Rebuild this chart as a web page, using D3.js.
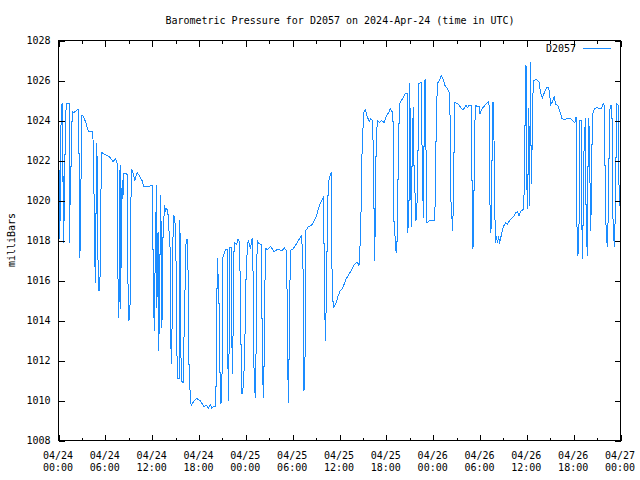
<!DOCTYPE html>
<html><head><meta charset="utf-8">
<script src="https://cdn.jsdelivr.net/npm/d3@7/dist/d3.min.js"></script>
<style>
body{margin:0;background:#fff}
svg{display:block}
text{font-family:"DejaVu Sans Mono","Liberation Mono",monospace;font-size:10px;fill:#000}
</style>
</head><body>
<svg id="chart" width="640" height="480"></svg>
<script>
const title = "Barometric Pressure for D2057 on 2024-Apr-24 (time in UTC)";
const seriesName = "D2057";
const yLabel = "milliBars";
const yTicks = [1008,1010,1012,1014,1016,1018,1020,1022,1024,1026,1028];
const xTickHours = [0,6,12,18,24,30,36,42,48,54,60,66,72];
const xMinorHours = [3,9,15,21,27,33,39,45,51,57,63,69];
const xTickDates = ["04/24","04/24","04/24","04/24","04/25","04/25","04/25","04/25","04/26","04/26","04/26","04/26","04/27"];
const xTickTimes = ["00:00","06:00","12:00","18:00","00:00","06:00","12:00","18:00","00:00","06:00","12:00","18:00","00:00"];
// [hours since 2024-04-24 00:00 UTC, millibars]
const readings = [
[0.00,1019.3],[0.10,1018.1],[0.15,1021.5],[0.25,1019.0],[0.30,1023.6],[0.45,1024.85],[0.55,1024.85],[0.60,1017.9],
[0.70,1021.2],[0.80,1019.0],[0.85,1023.6],[1.00,1024.85],[1.35,1024.85],[1.40,1017.9],[1.50,1021.2],[1.55,1019.8],
[1.65,1023.35],[1.80,1024.45],[2.00,1024.4],[2.30,1024.5],[2.50,1024.55],[2.60,1024.4],[2.65,1020.75],[2.75,1017.15],
[2.80,1019.8],[2.90,1021.3],[3.00,1024.25],[3.20,1024.2],[3.50,1023.9],[3.70,1023.6],[3.90,1023.45],[4.40,1023.45],
[4.50,1021.6],[4.65,1017.75],[4.70,1015.9],[4.75,1017.0],[4.85,1021.1],[4.90,1022.85],[5.00,1021.0],[5.05,1017.25],
[5.15,1015.5],[5.30,1015.5],[5.40,1019.0],[5.50,1022.4],[6.00,1022.3],[6.50,1022.2],[7.00,1021.95],[7.30,1022.1],
[7.55,1021.8],[7.60,1018.0],[7.65,1014.15],[7.75,1014.5],[7.80,1020.4],[7.90,1021.75],[7.95,1014.6],[8.05,1018.0],
[8.15,1021.0],[8.25,1020.1],[8.35,1021.35],[8.55,1021.35],[8.85,1021.3],[8.90,1015.9],[9.00,1014.0],[9.15,1014.05],
[9.25,1019.65],[9.40,1021.55],[9.60,1021.3],[9.80,1021.0],[9.90,1021.2],[10.10,1021.4],[10.40,1021.2],[10.70,1021.0],
[10.90,1020.7],[11.50,1020.7],[12.05,1020.75],[12.10,1018.9],[12.12,1015.35],[12.30,1013.5],[12.35,1016.0],[12.55,1020.75],
[12.60,1014.65],[12.75,1018.4],[12.85,1012.5],[13.10,1020.25],[13.20,1016.35],[13.25,1013.65],[13.40,1018.5],[13.60,1019.75],
[13.70,1019.5],[13.80,1019.6],[14.00,1019.5],[14.30,1017.6],[14.35,1013.85],[14.45,1011.85],[14.50,1012.0],[14.70,1019.25],
[14.90,1019.2],[15.05,1017.35],[15.10,1013.0],[15.30,1011.1],[15.45,1011.1],[15.55,1019.0],[15.60,1017.0],[15.65,1012.65],
[15.80,1010.95],[16.00,1010.9],[16.05,1012.65],[16.35,1018.05],[16.55,1018.05],[16.60,1016.25],[16.70,1012.0],[16.90,1010.0],
[17.00,1009.75],[17.30,1009.95],[17.70,1010.1],[18.15,1010.0],[18.60,1009.7],[19.00,1009.75],[19.20,1009.6],[19.45,1009.8],
[19.65,1009.6],[19.85,1009.7],[20.10,1009.7],[20.25,1011.6],[20.30,1015.25],[20.35,1017.1],[20.55,1015.25],[20.75,1009.85],
[20.85,1009.9],[20.95,1011.35],[21.05,1017.15],[21.25,1017.4],[21.40,1017.55],[21.60,1017.55],[21.70,1011.9],[21.80,1010.0],
[21.95,1017.65],[22.10,1017.65],[22.15,1014.0],[22.30,1011.35],[22.50,1017.9],[22.80,1017.8],[23.00,1018.05],[23.20,1017.9],
[23.35,1014.0],[23.45,1010.35],[23.60,1010.35],[23.80,1011.7],[23.95,1014.25],[24.05,1016.75],[24.30,1018.0],[24.50,1017.75],
[24.60,1017.6],[24.80,1018.1],[24.95,1016.1],[25.00,1012.1],[25.20,1010.15],[25.30,1012.1],[25.45,1018.0],[25.70,1017.85],
[25.95,1017.8],[26.05,1015.75],[26.10,1012.1],[26.25,1010.15],[26.35,1012.1],[26.50,1017.6],[26.80,1017.55],[27.20,1017.7],
[27.60,1017.45],[28.05,1017.55],[28.70,1017.5],[28.90,1017.65],[29.20,1017.5],[29.35,1013.75],[29.40,1011.2],[29.45,1009.9],
[29.60,1013.75],[29.70,1017.5],[30.10,1017.6],[30.60,1017.9],[30.95,1018.15],[31.15,1018.25],[31.35,1016.35],[31.40,1012.4],
[31.45,1010.5],[31.60,1012.4],[31.70,1018.5],[32.00,1018.7],[32.40,1018.75],[32.80,1019.0],[33.10,1019.3],[33.45,1019.8],
[33.75,1020.0],[33.95,1020.2],[34.10,1014.85],[34.20,1013.0],[34.30,1014.85],[34.45,1018.7],[34.55,1020.65],[34.70,1021.15],
[34.95,1021.4],[35.05,1016.1],[35.20,1014.65],[35.50,1014.8],[35.80,1015.2],[36.10,1015.5],[36.40,1015.6],[36.80,1016.05],
[37.20,1016.3],[37.70,1016.65],[38.00,1016.85],[38.30,1016.9],[38.50,1016.75],[38.60,1017.35],[38.75,1019.25],[38.90,1022.65],
[39.10,1024.4],[39.30,1024.55],[39.55,1024.2],[39.80,1023.95],[40.00,1024.1],[40.25,1024.0],[40.40,1020.6],[40.45,1018.15],
[40.50,1017.0],[40.55,1018.15],[40.70,1022.85],[40.85,1024.0],[41.10,1023.9],[41.40,1024.0],[41.70,1023.9],[42.00,1024.2],
[42.30,1024.4],[42.50,1024.6],[42.70,1024.45],[42.85,1024.4],[42.90,1021.0],[42.95,1019.15],[43.25,1017.4],[43.35,1017.6],
[43.45,1019.4],[43.55,1022.85],[43.70,1024.85],[44.10,1025.1],[44.40,1025.35],[44.65,1025.35],[44.70,1021.9],[44.75,1018.4],
[44.90,1019.65],[45.00,1025.85],[45.20,1018.7],[45.30,1022.0],[45.45,1024.65],[45.50,1022.25],[45.80,1019.0],[46.00,1020.35],
[46.15,1025.85],[46.45,1025.9],[46.65,1020.75],[46.75,1019.15],[46.90,1026.0],[47.05,1026.05],[47.10,1020.65],[47.20,1018.9],
[47.60,1019.0],[48.00,1019.0],[48.20,1019.0],[48.30,1020.75],[48.40,1024.15],[48.55,1025.85],[48.85,1026.05],[49.05,1026.25],
[49.30,1026.05],[49.50,1025.75],[49.80,1025.6],[50.10,1025.35],[50.20,1023.5],[50.25,1020.15],[50.50,1018.5],[50.60,1020.15],
[50.70,1023.3],[50.75,1024.9],[51.10,1024.85],[51.30,1024.8],[51.50,1024.65],[51.80,1024.55],[52.00,1024.6],[52.20,1024.75],
[52.40,1024.65],[52.60,1024.75],[52.85,1024.75],[52.95,1022.85],[53.00,1019.35],[53.10,1017.6],[53.20,1019.35],[53.30,1022.85],
[53.40,1024.75],[53.70,1024.7],[53.90,1024.7],[54.00,1024.35],[54.30,1024.6],[54.60,1024.75],[54.95,1024.9],[55.15,1024.95],
[55.20,1023.4],[55.25,1020.15],[55.40,1018.4],[55.50,1020.15],[55.60,1024.9],[55.70,1024.9],[55.80,1022.9],[55.90,1019.35],
[56.00,1017.9],[56.10,1018.2],[56.25,1017.9],[56.40,1018.2],[56.50,1017.85],[56.80,1018.4],[57.00,1018.7],[57.30,1018.9],
[57.50,1018.8],[57.80,1019.0],[58.00,1019.1],[58.30,1019.2],[58.60,1019.4],[58.80,1019.45],[59.00,1019.25],[59.20,1019.45],
[59.50,1019.55],[59.60,1019.55],[59.70,1021.35],[59.85,1026.75],[59.90,1026.7],[59.95,1021.4],[60.10,1019.6],[60.25,1024.6],
[60.35,1019.75],[60.45,1026.65],[60.50,1026.9],[60.55,1020.85],[60.65,1022.2],[60.75,1024.9],[60.85,1026.0],[61.20,1026.05],
[61.55,1025.95],[61.75,1025.4],[62.00,1025.15],[62.30,1025.45],[62.55,1025.65],[62.80,1025.65],[62.95,1025.2],[63.05,1024.8],
[63.30,1024.95],[63.50,1025.2],[63.70,1024.8],[63.95,1024.75],[64.20,1024.5],[64.50,1024.1],[64.80,1024.05],[65.20,1024.1],
[65.60,1024.1],[66.00,1023.95],[66.15,1023.9],[66.30,1024.15],[66.35,1022.45],[66.40,1019.0],[66.55,1017.25],[66.70,1019.0],
[66.80,1024.0],[67.00,1024.0],[67.05,1018.85],[67.15,1017.1],[67.30,1022.25],[67.50,1024.1],[67.60,1018.85],[67.75,1017.25],
[67.85,1022.25],[67.95,1024.1],[68.10,1020.75],[68.20,1018.5],[68.30,1022.0],[68.45,1024.35],[68.70,1024.6],[69.00,1024.65],
[69.30,1024.6],[69.55,1024.6],[69.80,1024.85],[69.95,1024.75],[70.00,1022.9],[70.05,1019.4],[70.30,1017.7],[70.45,1019.4],
[70.60,1024.5],[70.75,1024.75],[70.90,1024.75],[71.00,1019.45],[71.20,1017.7],[71.35,1019.45],[71.50,1024.85],[71.70,1024.75],
[71.75,1022.2],[71.85,1019.7]
];

const svg = d3.select("#chart");
const L = 58, R = 620, T = 40, B = 440;
const x = d3.scaleLinear().domain([0, 72]).range([L, R]);
const y = d3.scaleLinear().domain([1008, 1028]).range([B, T]);
const lineColor = "#1a8cff";

// data line
const clipId = "plotclip";
svg.append("clipPath").attr("id", clipId).append("rect")
  .attr("x", L).attr("y", T).attr("width", R - L).attr("height", B - T);
svg.append("path")
  .datum(readings)
  .attr("clip-path", `url(#${clipId})`)
  .attr("fill", "none")
  .attr("stroke", lineColor)
  .attr("stroke-width", 1)
  .attr("shape-rendering", "crispEdges")
  .attr("d", d3.line().x(d => x(d[0]) + 0.5).y(d => y(d[1]) + 0.5));

// axes (ticks inward)
function styleAxis(g) {
  g.select(".domain").remove();
  g.selectAll("line").attr("stroke", "#000").attr("shape-rendering", "crispEdges");
  g.selectAll("text").attr("font-family", null).attr("font-size", null);
  g.attr("font-family", null).attr("font-size", null);
}
svg.append("g").attr("transform", `translate(${L + 0.5},0.5)`)
  .call(d3.axisLeft(y).tickValues(yTicks).tickSize(-6).tickPadding(8).tickFormat(d3.format("d")))
  .call(styleAxis);
svg.append("g").attr("transform", `translate(${R + 0.5},0.5)`)
  .call(d3.axisRight(y).tickValues(yTicks).tickSize(-6).tickFormat(""))
  .call(styleAxis);
svg.append("g").attr("transform", `translate(0.5,${B + 0.5})`)
  .call(d3.axisBottom(x).tickValues(xTickHours).tickSize(-6).tickFormat(""))
  .call(styleAxis);
svg.append("g").attr("transform", `translate(0.5,${B + 0.5})`)
  .call(d3.axisBottom(x).tickValues(xMinorHours).tickSize(-3).tickFormat(""))
  .call(styleAxis);
svg.append("g").attr("transform", `translate(0.5,${T + 0.5})`)
  .call(d3.axisTop(x).tickValues(xTickHours).tickSize(-6).tickFormat(""))
  .call(styleAxis);
svg.append("g").attr("transform", `translate(0.5,${T + 0.5})`)
  .call(d3.axisTop(x).tickValues(xMinorHours).tickSize(-3).tickFormat(""))
  .call(styleAxis);

// border
svg.append("rect")
  .attr("x", L + 0.5).attr("y", T + 0.5).attr("width", R - L).attr("height", B - T)
  .attr("fill", "none").attr("stroke", "#000").attr("shape-rendering", "crispEdges");

// x tick labels (two lines)
const xl = svg.append("g");
xTickHours.forEach((h, i) => {
  const t = xl.append("text").attr("text-anchor", "middle");
  t.append("tspan").attr("x", x(h)).attr("y", 459).text(xTickDates[i]);
  t.append("tspan").attr("x", x(h)).attr("y", 471).text(xTickTimes[i]);
});

// title
svg.append("text").attr("x", 340).attr("y", 24).attr("text-anchor", "middle").text(title);

// y label
svg.append("text").attr("transform", "translate(15,240) rotate(-90)")
  .attr("text-anchor", "middle").text(yLabel);

// legend
svg.append("text").attr("x", 576).attr("y", 52).attr("text-anchor", "end").text(seriesName);
svg.append("line").attr("x1", 583).attr("x2", 611).attr("y1", 48.5).attr("y2", 48.5)
  .attr("stroke", lineColor).attr("stroke-width", 1);
</script>
</body></html>
